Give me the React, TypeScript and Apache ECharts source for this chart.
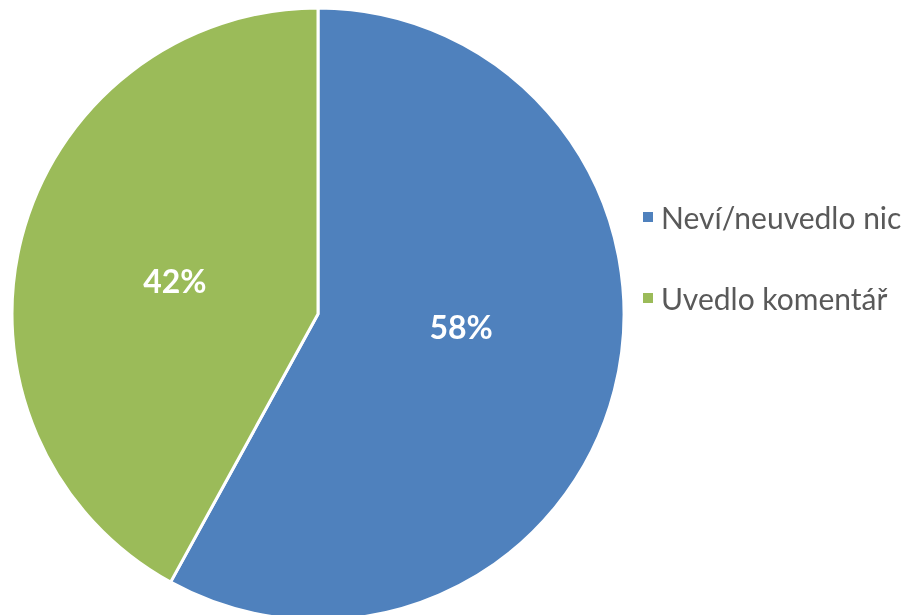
import React, { useEffect, useRef } from "react";
import * as echarts from "echarts";

const categories = ["Neví/neuvedlo nic", "Uvedlo komentář"];
const values = [58, 42];
const colors = ["#4F81BD", "#9BBB59"];

export default function App() {
  const ref = useRef<HTMLDivElement>(null);
  useEffect(() => {
    const chart = echarts.init(ref.current!, null, { renderer: "svg" });
    chart.setOption({
      animation: false,
      color: colors,
      legend: {
        orient: "vertical",
        left: 636,
        top: 197,
        itemWidth: 12,
        itemHeight: 12,
        itemGap: 51,
        icon: "rect",
        textStyle: { fontFamily: "Lato", fontSize: 30, color: "#595959", padding: [0, 0, 0, 2] },
        data: categories,
      },
      series: [
        {
          type: "pie",
          center: [318, 314],
          radius: [0, 306],
          startAngle: 90,
          clockwise: true,
          itemStyle: { borderColor: "#ffffff", borderWidth: 3 },
          label: {
            show: true,
            position: "inside",
            formatter: "{d}%",
            color: "#ffffff",
            fontFamily: "Lato",
            fontWeight: "bold",
            fontSize: 32,
          },
          labelLine: { show: false },
          data: categories.map((name, i) => ({
            name,
            value: values[i],
            label: i === 0 ? { offset: [-8, -26] } : { offset: [8, 5] },
          })),
        },
      ],
    });
    return () => chart.dispose();
  }, []);
  return (
    <div
      ref={ref}
      style={{ position: "fixed", left: 0, top: 0, width: 901, height: 615 }}
    />
  );
}
